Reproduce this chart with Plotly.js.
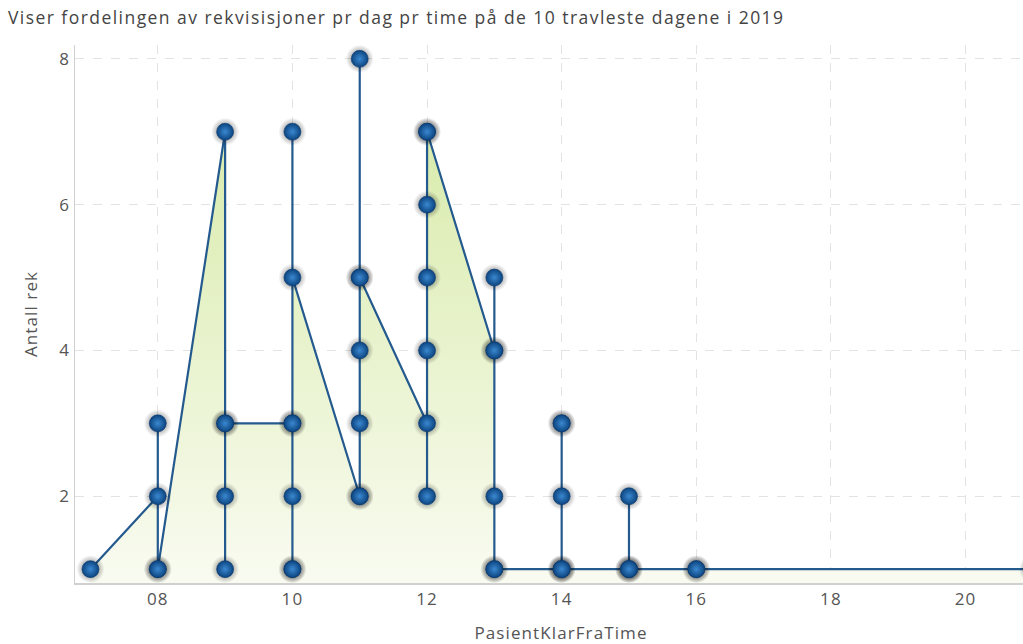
<!DOCTYPE html>
<html>
<head>
<meta charset="utf-8">
<script src="https://cdn.plot.ly/plotly-3.0.1.min.js"></script>
<style>html,body{margin:0;padding:0;background:#fff;overflow:hidden;}#chart{width:1047px;height:644px;}
#chart text{letter-spacing:1.1px;}
#chart .gtitle{letter-spacing:1.45px;}</style>
</head>
<body>
<div id="chart"></div>
<script>
// PasientKlarFraTime (hour) and Antall rek (count), in the series' drawing order
const hours  = [7, 8, 8, 8, 8, 9, 9, 9, 9, 9, 10, 10, 10, 10, 10, 10, 10, 11, 11, 11, 11, 11, 11, 11, 12, 12, 12, 12, 12, 12, 12, 13, 13, 13, 13, 13, 13, 14, 14, 14, 14, 14, 14, 15, 15, 15, 15, 16, 16, 21];
const counts = [1, 2, 3, 1, 1, 7, 1, 2, 3, 3,  3,  1,  1,  2,  3,  7,  5,  2,  2,  8,  3,  4,  5,  5,  3,  2,  4,  5,  6,  7,  7,  4,  4,  5,  2,  1,  1,  1,  1,  3,  3,  2,  1,  1,  2,  1,  1,  1,  1,  1];
const xTickVals = [8, 10, 12, 14, 16, 18, 20];
const yTickVals = [2, 4, 6, 8];
const titleText = "Viser fordelingen av rekvisisjoner pr dag pr time på de 10 travleste dagene i 2019";
const xTitle = "PasientKlarFraTime";
const yTitle = "Antall rek";

const fontFam = "'Open Sans', 'Noto Sans', sans-serif";

const traces = [
  {
    x: hours, y: counts, type: 'scatter', mode: 'lines',
    fill: 'tozeroy',
    fillgradient: {type: 'vertical', start: 0.8, stop: 7.6,
      colorscale: [[0, '#f9fbf1'], [1, '#d6eaa6']]},
    line: {color: '#245a8e', width: 2.2},
    hoverinfo: 'skip', showlegend: false
  },
  {
    x: hours, y: counts, type: 'scatter', mode: 'markers',
    marker: {size: 28, color: 'rgba(0,0,0,0)',
      gradient: {type: 'radial', color: 'rgba(0,0,0,0.62)'}, line: {width: 0}},
    hoverinfo: 'skip', showlegend: false, cliponaxis: false
  },
  {
    x: hours, y: counts, type: 'scatter', mode: 'markers',
    marker: {size: 17, color: '#0c447f',
      gradient: {type: 'radial', color: '#3a88d0'}, line: {width: 0.6, color: '#0b3b70'}},
    showlegend: false, cliponaxis: false
  }
];

const layout = {
  width: 1047, height: 644,
  margin: {l: 75, r: 0, t: 45, b: 61},
  paper_bgcolor: '#ffffff', plot_bgcolor: '#ffffff',
  font: {family: fontFam, size: 17, color: '#555'},
  title: {text: titleText, x: 0.0076, xanchor: 'left', y: 0.972, yanchor: 'middle',
    font: {family: fontFam, size: 17.5, color: '#444'}},
  xaxis: {
    range: [6.77, 21.21], tickvals: xTickVals, tickformat: '02d',
    showgrid: true, gridcolor: '#e3e3e3', griddash: 'dash', gridwidth: 1,
    showline: true, linecolor: '#d0d0d0', linewidth: 1.5, zeroline: false,
    ticks: '', tickfont: {size: 17, color: '#555'},
    title: {text: xTitle, standoff: 24, font: {size: 17, color: '#555'}}
  },
  yaxis: {
    range: [0.81, 8.19], tickvals: yTickVals,
    showgrid: true, gridcolor: '#e3e3e3', griddash: 'dash', gridwidth: 1,
    showline: true, linecolor: '#d0d0d0', linewidth: 1.5, zeroline: false,
    ticks: '', tickfont: {size: 17, color: '#555'},
    title: {text: yTitle, standoff: 18, font: {size: 17, color: '#555'}}
  }
};

Plotly.newPlot('chart', traces, layout, {displayModeBar: false, staticPlot: true});
</script>
</body>
</html>
